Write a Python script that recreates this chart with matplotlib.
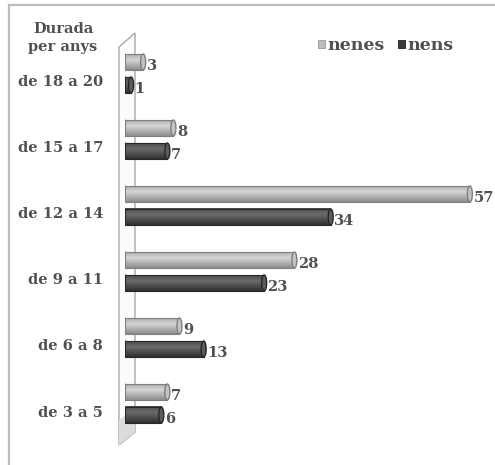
import numpy as np
import matplotlib
matplotlib.use("Agg")
import matplotlib.pyplot as plt
from matplotlib.patches import Ellipse, Rectangle, Polygon
from matplotlib.lines import Line2D
from matplotlib.transforms import blended_transform_factory

categories = ["de 3 a 5", "de 6 a 8", "de 9 a 11", "de 12 a 14", "de 15 a 17", "de 18 a 20"]
nenes = [7, 9, 28, 57, 8, 3]
nens = [6, 13, 23, 34, 7, 1]
series_names = ["nenes", "nens"]
axis_title = "Durada\nper anys"

W, H = 495, 465
fig = plt.figure(figsize=(W / 100, H / 100), dpi=100)
fig.patch.set_facecolor("white")

# overlay in pixel units for frame and back wall
ov = fig.add_axes([0, 0, 1, 1], zorder=0)
ov.set_xlim(0, W)
ov.set_ylim(H, 0)
ov.axis("off")

# data axes: value axis starts at x=125 px, 6.05 px per unit
x0_px, px_per_unit = 125, 6.05
ax = fig.add_axes([x0_px / W, 0, (W - x0_px) / W, 1], zorder=1)
ax.patch.set_alpha(0)
ax.set_xlim(0, (W - x0_px) / px_per_unit)
px_per_cat = 66.0
bottom_px = 465 - 403.5
ax.set_ylim(-bottom_px / px_per_cat, (H - bottom_px) / px_per_cat)
ax.axis("off")

FONT = "DejaVu Serif"
TXT = "#505050"

# outer frame
ov.add_line(Line2D([9, 9], [5, H], color="#bdbdbd", lw=1.6))
ov.add_line(Line2D([9, W], [5, 5], color="#bdbdbd", lw=1.6))

# back wall of the 3D plot
wall = Polygon([(119, 47), (135, 33), (135, 432), (119, 445)], closed=True,
               facecolor="#fcfcfc", edgecolor="#a8a8a8", lw=1.0)
ov.add_patch(wall)
ov.add_patch(Polygon([(119, 420), (135, 408), (135, 432), (119, 445)], closed=True,
                     facecolor="#dcdcdc", edgecolor="none"))

bar_h = 16 / px_per_cat
off = 11.5 / px_per_cat
cap_w = 5 / px_per_unit


def cylinder(val, yc, light, dark, edge):
    n = 40
    t = np.linspace(0, 1, n)
    prof = 1 - np.abs(t - 0.35) / 0.65
    cols = np.array([np.array(dark) + (np.array(light) - np.array(dark)) * p for p in prof])
    img = cols.reshape(n, 1, 3)
    y0, y1 = yc - bar_h / 2, yc + bar_h / 2
    ax.imshow(img, extent=[0, val, y0, y1], aspect="auto", origin="upper",
              interpolation="bilinear", zorder=2)
    ax.add_patch(Rectangle((0, y0), val, bar_h, fill=False, edgecolor=edge, lw=0.8, zorder=3))
    ax.add_patch(Ellipse((0, yc), cap_w, bar_h, facecolor=cols[n // 3], edgecolor=edge, lw=0.8, zorder=1.5))
    ax.add_patch(Ellipse((val, yc), cap_w, bar_h, facecolor=cols[n // 2], edgecolor=edge, lw=1.0, zorder=4))


light_c = ((0.84, 0.84, 0.84), (0.55, 0.55, 0.55), "#7f7f7f")
dark_c = ((0.42, 0.42, 0.42), (0.19, 0.19, 0.19), "#262626")

for i, cat in enumerate(categories):
    cylinder(nenes[i], i + off, *light_c)
    cylinder(nens[i], i - off, *dark_c)
    ax.text(nenes[i] + cap_w / 2 + 0.15, i + off - 4 / px_per_cat, str(nenes[i]), ha="left", va="center",
            fontsize=10.5, family=FONT, fontweight="bold", color=TXT, zorder=5)
    ax.text(nens[i] + cap_w / 2 + 0.15, i - off - 4 / px_per_cat, str(nens[i]), ha="left", va="center",
            fontsize=10.5, family=FONT, fontweight="bold", color=TXT, zorder=5)

lab_tr = blended_transform_factory(ov.transData, ax.transData)
for i, cat in enumerate(categories):
    ax.text(103, i - 9 / px_per_cat, cat, transform=lab_tr, ha="right", va="center",
            fontsize=10.5, family=FONT, fontweight="bold", color=TXT)

ov.text(63, 38, axis_title, ha="center", va="center", fontsize=10.5, family=FONT,
        fontweight="bold", color=TXT, linespacing=1.35)

# legend
ov.add_patch(Rectangle((318, 40), 7, 8, facecolor="#bdbdbd", edgecolor="#999999", lw=0.6))
ov.text(327, 45, series_names[0], ha="left", va="center", fontsize=12.5, family=FONT,
        fontweight="bold", color=TXT)
ov.add_patch(Rectangle((398, 40), 7, 8, facecolor="#3a3a3a", edgecolor="#222222", lw=0.6))
ov.text(407, 45, series_names[1], ha="left", va="center", fontsize=12.5, family=FONT,
        fontweight="bold", color=TXT)

fig.savefig("out.png", dpi=100, facecolor="white")
